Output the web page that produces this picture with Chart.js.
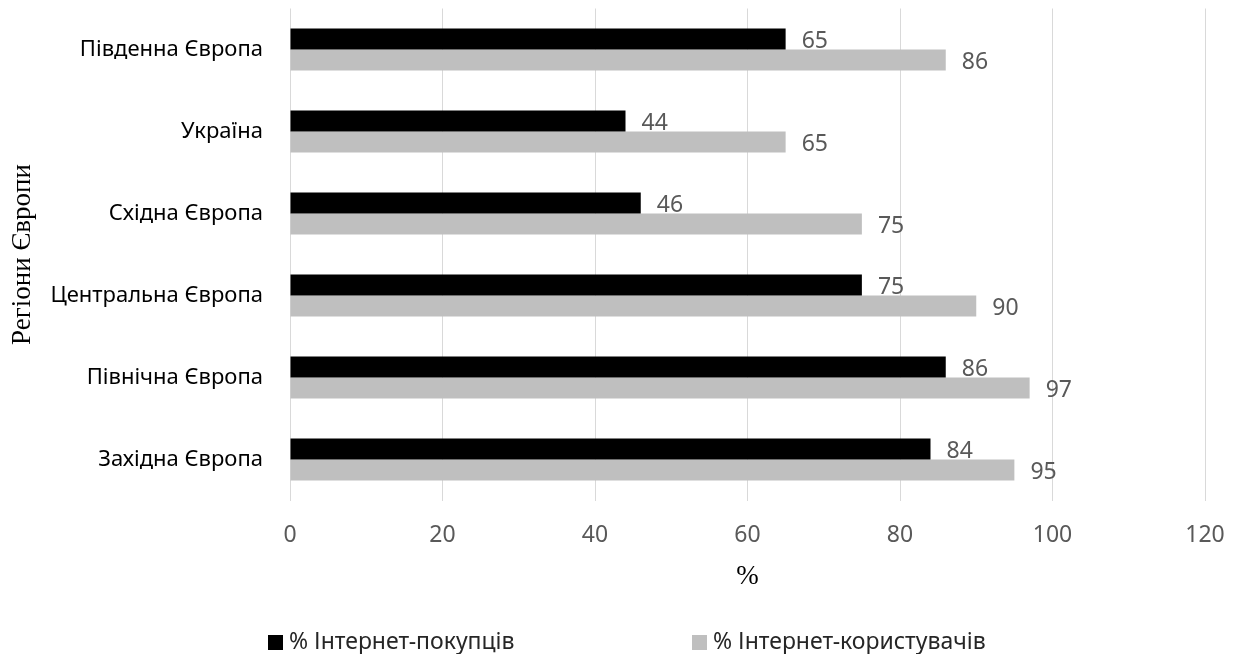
<!DOCTYPE html>
<html>
<head>
<meta charset="utf-8">
<script src="https://cdn.jsdelivr.net/npm/chart.js@4.4.1/dist/chart.umd.min.js"></script>
<style>
  html, body { margin: 0; padding: 0; background: #fff; }
  #wrap { width: 1236px; height: 654px; position: relative; }
</style>
</head>
<body>
<div id="wrap"><canvas id="regionsChart" width="1236" height="654"></canvas></div>
<script>
  // values
  const regions = [
    "Південна Європа",
    "Україна",
    "Східна Європа",
    "Центральна Європа",
    "Північна Європа",
    "Західна Європа",
  ];
  const buyers = [65, 44, 46, 75, 86, 84];
  const users = [86, 65, 75, 90, 97, 95];
  const xTicks = [0, 20, 40, 60, 80, 100, 120];
  const seriesNames = ["% Інтернет-покупців", "% Інтернет-користувачів"];

  const sans = "'Noto Sans', sans-serif";
  const serif = "'Liberation Serif', 'DejaVu Serif', serif";

  // value labels, axis titles and legend drawn on top of the chart
  const extrasPlugin = {
    id: "extras",
    afterDatasetsDraw(chart) {
      const ctx = chart.ctx;
      ctx.save();
      ctx.font = "23px " + sans;
      ctx.fillStyle = "#595959";
      ctx.textAlign = "left";
      ctx.textBaseline = "middle";
      chart.data.datasets.forEach((ds, i) => {
        chart.getDatasetMeta(i).data.forEach((bar, j) => {
          ctx.fillText(String(ds.data[j]), bar.x + 16, bar.y + 2);
        });
      });
      ctx.restore();
    },
    afterDraw(chart) {
      const ctx = chart.ctx;
      const area = chart.chartArea;
      ctx.save();

      // y axis title
      ctx.font = "27px " + serif;
      ctx.fillStyle = "#000";
      ctx.textAlign = "center";
      ctx.textBaseline = "middle";
      ctx.translate(23, (area.top + area.bottom) / 2);
      ctx.rotate(-Math.PI / 2);
      ctx.fillText("Регіони Європи", 0, 0);
      ctx.setTransform(1, 0, 0, 1, 0, 0);

      // x axis title
      ctx.fillText("%", (area.left + area.right) / 2, 577);

      // legend
      const colors = ["#000000", "#bfbfbf"];
      const starts = [268, 692];
      ctx.font = "23px " + sans;
      ctx.textAlign = "left";
      seriesNames.forEach((name, i) => {
        ctx.fillStyle = colors[i];
        ctx.fillRect(starts[i], 635, 15, 15);
        ctx.fillStyle = "#262626";
        ctx.fillText(name, starts[i] + 21, 642);
      });
      ctx.restore();
    },
  };

  const ctx = document.getElementById("regionsChart").getContext("2d");
  const regionsChart = new Chart(ctx, {
    type: "bar",
    data: {
      labels: regions,
      datasets: [
        {
          label: seriesNames[0],
          data: buyers,
          backgroundColor: "#000000",
          categoryPercentage: 0.51,
          barPercentage: 1,
        },
        {
          label: seriesNames[1],
          data: users,
          backgroundColor: "#bfbfbf",
          categoryPercentage: 0.51,
          barPercentage: 1,
        },
      ],
    },
    options: {
      indexAxis: "y",
      responsive: false,
      animation: false,
      devicePixelRatio: 1,
      layout: {
        padding: { left: 0, top: 8.5, right: 31, bottom: 0 },
      },
      plugins: {
        legend: { display: false },
        tooltip: { enabled: false },
      },
      scales: {
        x: {
          min: 0,
          max: 120,
          afterBuildTicks: (scale) => {
            scale.ticks = xTicks.map((v) => ({ value: v }));
          },
          afterFit: (scale) => {
            scale.height = 153.5;
            scale.paddingLeft = 0;
            scale.paddingRight = 0;
          },
          grid: {
            color: "#d9d9d9",
            lineWidth: 1,
            drawTicks: false,
          },
          border: { display: false },
          ticks: {
            color: "#595959",
            font: { family: sans, size: 23 },
            padding: 21,
            maxRotation: 0,
          },
        },
        y: {
          afterFit: (scale) => {
            scale.width = 290;
            scale.paddingTop = 0;
            scale.paddingBottom = 0;
          },
          grid: { display: false },
          border: { display: false },
          ticks: {
            color: "#000",
            font: { family: sans, size: 22 },
            padding: 19,
          },
        },
      },
    },
    plugins: [extrasPlugin],
  });
</script>
</body>
</html>
